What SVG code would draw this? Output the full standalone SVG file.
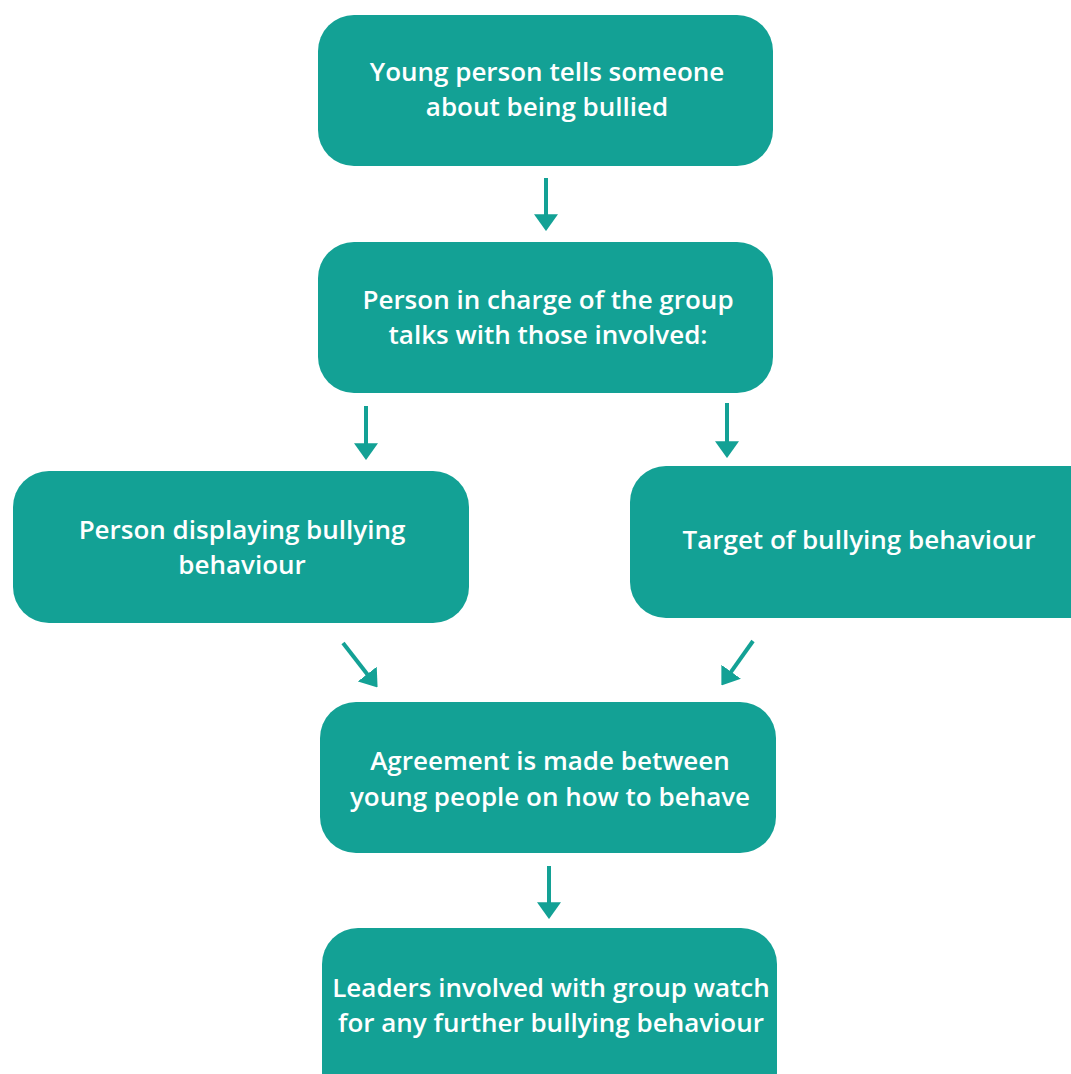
<svg xmlns="http://www.w3.org/2000/svg" width="1071" height="1074" viewBox="0 0 1071 1074">
<defs>
<style>
.box{fill:#13a195;}
.t{fill:#ffffff;font-family:"Open Sans","Liberation Sans",sans-serif;font-weight:600;font-size:26px;text-anchor:middle;}
.c{stroke:#13a195;stroke-width:4;fill:none;}
</style>
<marker id="ah" viewBox="0 0 7 10" refX="0.3" refY="5" markerWidth="4.2" markerHeight="6" orient="auto" markerUnits="strokeWidth">
<path d="M0,0 L7,5 L0,10 Z" fill="#13a195"/>
</marker>
</defs>
<rect width="1071" height="1074" fill="#ffffff"/>
<g id="n1"><rect class="box" x="318" y="15" width="455" height="151" rx="36"/>
<text class="t" x="547" y="81">Young person tells someone</text>
<text class="t" x="547" y="116">about being bullied</text></g>
<g id="n2"><rect class="box" x="318" y="242" width="455" height="151" rx="36"/>
<text class="t" x="548" y="309">Person in charge of the group</text>
<text class="t" x="548" y="344">talks with those involved:</text></g>
<g id="n3"><rect class="box" x="13" y="471" width="456" height="152" rx="36"/>
<text class="t" x="242" y="539">Person displaying bullying</text>
<text class="t" x="242" y="574">behaviour</text></g>
<g id="n4"><rect class="box" x="630" y="466" width="480" height="152" rx="36"/>
<text class="t" x="859" y="549">Target of bullying behaviour</text></g>
<g id="n5"><rect class="box" x="320" y="702" width="456" height="151" rx="36"/>
<text class="t" x="550" y="770">Agreement is made between</text>
<text class="t" x="550" y="806">young people on how to behave</text></g>
<g id="n6"><rect class="box" x="322" y="928" width="455" height="180" rx="36"/>
<text class="t" x="551" y="997">Leaders involved with group watch</text>
<text class="t" x="551" y="1032">for any further bullying behaviour</text></g>
<g id="connectors">
<line class="c" x1="546" y1="178" x2="546" y2="215" marker-end="url(#ah)"/>
<line class="c" x1="366" y1="406" x2="366" y2="444" marker-end="url(#ah)"/>
<line class="c" x1="727" y1="403" x2="727" y2="442" marker-end="url(#ah)"/>
<line class="c" x1="343" y1="643" x2="367.7" y2="674.7" marker-end="url(#ah)"/>
<line class="c" x1="753" y1="641" x2="730.7" y2="672.3" marker-end="url(#ah)"/>
<line class="c" x1="549" y1="866" x2="549" y2="903" marker-end="url(#ah)"/>
</g>
</svg>
